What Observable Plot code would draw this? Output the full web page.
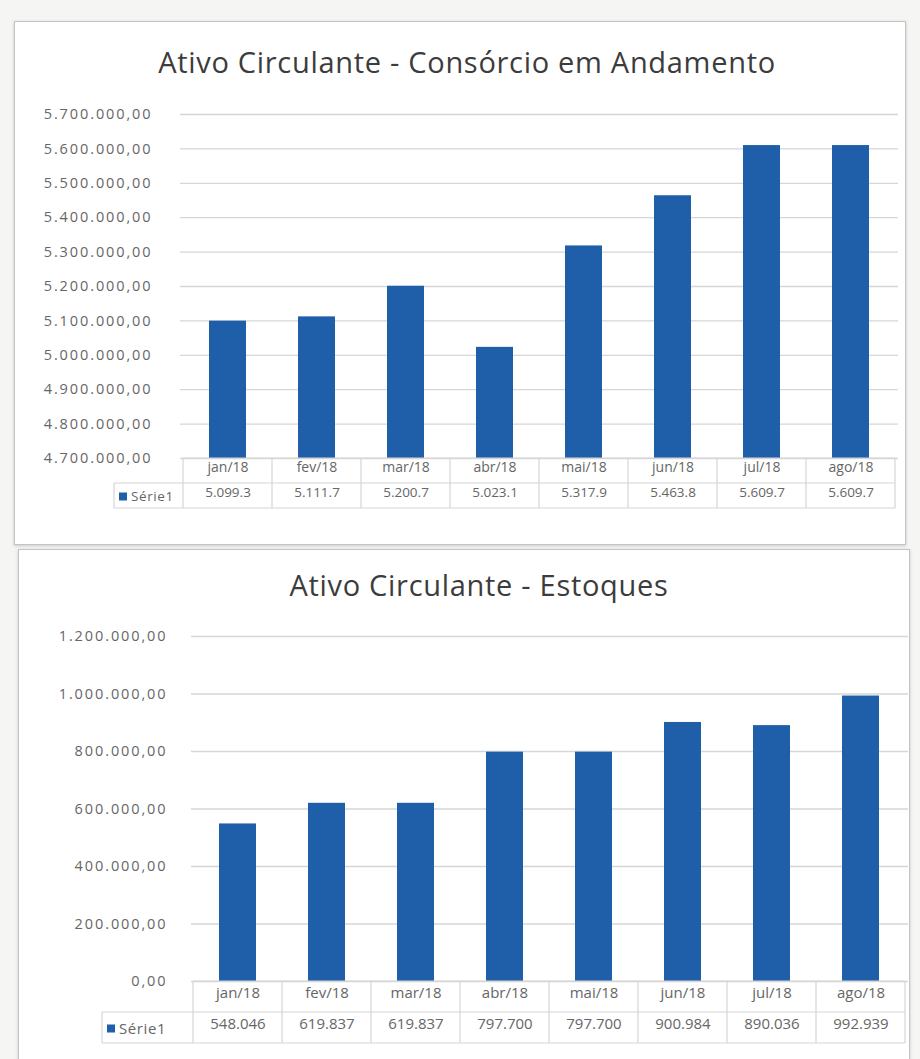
<!DOCTYPE html>
<html><head><meta charset="utf-8">
<script src="https://cdn.jsdelivr.net/npm/d3@7"></script>
<script src="https://cdn.jsdelivr.net/npm/@observablehq/plot@0.6"></script>
<style>
html,body{margin:0;padding:0;background:#f5f5f3;}
#page{position:relative;width:920px;height:1059px;overflow:hidden;font-family:"Open Sans",sans-serif;}
.box{position:absolute;background:#fff;border:1px solid #c4c4c4;box-shadow:0 1px 3px rgba(0,0,0,0.18);}
.title{position:absolute;text-align:center;color:#3c3c3c;font-size:29px;line-height:36px;letter-spacing:0.7px;white-space:nowrap;}
.chart{position:absolute;left:0;}
.chart svg g[aria-label="y-axis tick label"] text{letter-spacing:1.9px;}
.chart svg text.tbl{letter-spacing:0.6px;}
</style></head>
<body><div id="page">
<div class="box" style="left:14px;top:21px;width:890px;height:522px"></div>
<div class="box" style="left:18px;top:549px;width:890px;height:520px"></div>
<div class="title" style="left:0;width:934px;top:44px">Ativo Circulante - Consórcio em Andamento</div>
<div class="title" style="left:0;width:958px;top:567px">Ativo Circulante - Estoques</div>
<div class="chart" id="c1" style="top:0"></div>
<div class="chart" id="c2" style="top:545px"></div>
</div>
<script>
const months = ["jan/18","fev/18","mar/18","abr/18","mai/18","jun/18","jul/18","ago/18"];
const seriesName = "Série1";

const consorcioValues = [5099300, 5111700, 5200700, 5023100, 5317900, 5463800, 5609700, 5609700];
const consorcioLabels = ["5.099.3","5.111.7","5.200.7","5.023.1","5.317.9","5.463.8","5.609.7","5.609.7"];
const consorcioTicks = [4700000,4800000,4900000,5000000,5100000,5200000,5300000,5400000,5500000,5600000,5700000];

const estoquesValues = [548046, 619837, 619837, 797700, 797700, 900984, 890036, 992939];
const estoquesLabels = ["548.046","619.837","619.837","797.700","797.700","900.984","890.036","992.939"];
const estoquesTicks = [0,200000,400000,600000,800000,1000000,1200000];

const locale = d3.formatLocale({decimal: ",", thousands: ".", grouping: [3], currency: ["R$ ", ""]});
const fmt = locale.format(",.2f");

const BLUE = "#1f5ea8";
const GRID = "#d6d6d6";
const TXT = "#666666";

function makeChart(el, o) {
  const data = months.map((m, i) => ({month: m, value: o.values[i], label: o.labels[i]}));
  const yMin = o.ticks[0], yMax = o.ticks[o.ticks.length - 1];
  const plot = Plot.plot({
    width: 920, height: o.height,
    marginLeft: o.mL, marginRight: o.mR, marginTop: o.mT, marginBottom: o.mB,
    style: {background: "transparent", fontFamily: "'Open Sans', sans-serif", color: TXT},
    x: {domain: months, paddingInner: 0.58, paddingOuter: 0.29, axis: null},
    y: {domain: [yMin, yMax], axis: null},
    marks: [
      Plot.gridY(o.ticks, {stroke: GRID, strokeOpacity: 1, strokeWidth: 1.3}),
      Plot.axisY(o.ticks, {tickSize: 0, tickPadding: o.tickPad, tickFormat: fmt, fontSize: 14.5, fill: TXT, label: null}),
      Plot.barY(data, {x: "month", y1: yMin, y2: "value", fill: BLUE}),
      Plot.text(data, {x: "month", text: "month", frameAnchor: "bottom", dy: o.rowH / 2 + 1, fontSize: o.hdrSize, fill: TXT, className: "tbl"}),
      Plot.text(data, {x: "month", text: "label", frameAnchor: "bottom", dy: o.rowH * 1.5 + 1, fontSize: o.valSize, fill: TXT, className: "tbl"})
    ]
  });
  el.appendChild(plot);
  // data table grid drawn from the plot's x band scale
  const xs = plot.scale("x");
  const svg = d3.select(plot);
  const yb = o.height - o.mB;
  const left = xs.apply(months[0]) + xs.bandwidth / 2 - xs.step / 2;
  const right = left + xs.step * months.length;
  const g = svg.append("g").attr("stroke", GRID).attr("stroke-width", 1.2);
  g.append("line").attr("x1", left).attr("x2", right).attr("y1", yb).attr("y2", yb);
  g.append("line").attr("x1", o.legendLeft).attr("x2", right).attr("y1", yb + o.rowH).attr("y2", yb + o.rowH);
  g.append("line").attr("x1", o.legendLeft).attr("x2", right).attr("y1", yb + 2 * o.rowH).attr("y2", yb + 2 * o.rowH);
  for (let k = 0; k <= months.length; k++) {
    const x = left + k * xs.step;
    g.append("line").attr("x1", x).attr("x2", x).attr("y1", yb).attr("y2", yb + 2 * o.rowH);
  }
  g.append("line").attr("x1", o.legendLeft).attr("x2", o.legendLeft).attr("y1", yb + o.rowH).attr("y2", yb + 2 * o.rowH);
  const cy = yb + o.rowH * 1.5 + 1;
  svg.append("rect").attr("x", o.legendLeft + 5).attr("y", cy - 4).attr("width", 8).attr("height", 8).attr("fill", BLUE);
  svg.append("text").attr("class", "tbl").attr("x", o.legendLeft + 17).attr("y", cy).attr("dy", "0.35em")
    .attr("text-anchor", "start")
    .attr("font-size", o.valSize).attr("fill", TXT).attr("font-family", "'Open Sans', sans-serif").text(seriesName);
}

makeChart(document.getElementById("c1"), {
  values: consorcioValues, labels: consorcioLabels, ticks: consorcioTicks,
  height: 545, mL: 180, mR: 22, mT: 114, mB: 87, tickPad: 28,
  rowH: 25, legendLeft: 114, hdrSize: 14, valSize: 13.5
});
makeChart(document.getElementById("c2"), {
  values: estoquesValues, labels: estoquesLabels, ticks: estoquesTicks,
  height: 514, mL: 191, mR: 12, mT: 91, mB: 78, tickPad: 24,
  rowH: 31, legendLeft: 102, hdrSize: 15, valSize: 15
});
</script>
</body></html>
